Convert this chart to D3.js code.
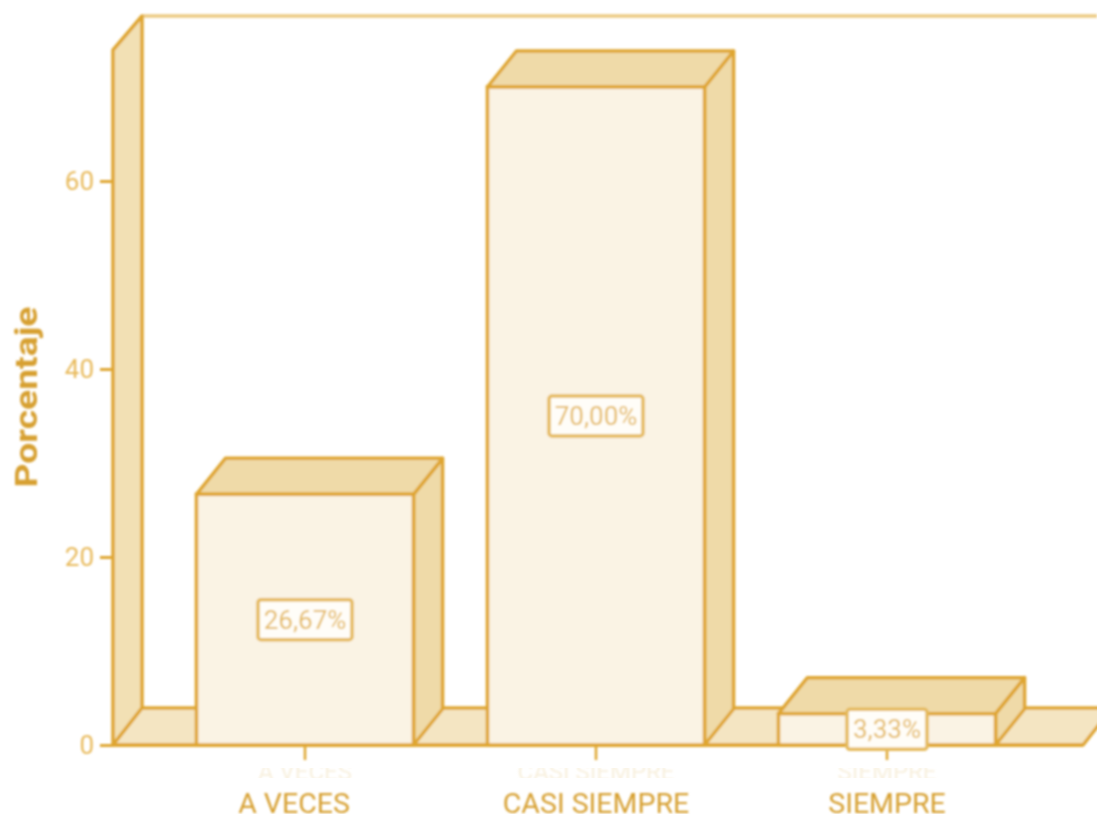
<!DOCTYPE html>
<html><head><meta charset="utf-8">
<script src="https://cdn.jsdelivr.net/npm/d3@7/dist/d3.min.js"></script>
<style>html,body{margin:0;padding:0;background:#fff}svg{display:block}</style></head>
<body><svg id="c" width="1097" height="814"></svg>
<script>
const categories = ["A VECES", "CASI SIEMPRE", "SIEMPRE"];
const percentages = [26.67, 70.0, 3.33];
const valueLabels = ["26,67%", "70,00%", "3,33%"];
const yTicks = [0, 20, 40, 60];
const yTitle = "Porcentaje";

const stroke = "#dfa630", side = "#efdaa8", wall = "#f2e0b4", floorFill = "#f4e5c2", front = "#faf3e4", tickText = "#e8ba5c", labelText = "#d7a032";
const font = "Roboto, sans-serif";
const depthX = 29, depthY = 36;
const y = d3.scaleLinear().domain([0, 60]).range([745, 181]);
const x = d3.scaleBand().domain(categories).range([159.5, 1032.5]).paddingInner(0.254).paddingOuter(0.127);

const svg = d3.select("#c");
const defs = svg.append("defs");
defs.append("filter").attr("id", "soft")
  .attr("filterUnits", "userSpaceOnUse").attr("x", 0).attr("y", 0).attr("width", 1097).attr("height", 814)
  .append("feGaussianBlur").attr("stdDeviation", 0.9);
defs.append("clipPath").attr("id", "ghost").append("rect").attr("x", 0).attr("y", 768).attr("width", 1097).attr("height", 10);

const g = svg.append("g").attr("filter", "url(#soft)");
const y0 = y(0), yTop = 50, xL = 113, xR = 1083;
const poly = (pts, fill) => g.append("polygon").attr("points", pts.map(p => p.join(",")).join(" "))
  .attr("fill", fill).attr("stroke", stroke).attr("stroke-width", 3.5).attr("stroke-linejoin", "round");

// back wall top edge, left wall, floor
g.append("line").attr("x1", xL + depthX).attr("x2", 1097).attr("y1", 16).attr("y2", 16)
  .attr("stroke", "#ecca82").attr("stroke-width", 3.5);
poly([[xL, y0], [xL, yTop], [xL + depthX, 16], [xL + depthX, y0 - depthY - 1]], wall);
poly([[xL, y0], [xL + depthX, y0 - depthY - 1], [xR + depthX, y0 - depthY - 1], [xR, y0]], floorFill);

// axes
const yAxis = g.append("g").attr("transform", `translate(${xL},0)`)
  .call(d3.axisLeft(y).tickValues(yTicks).tickSize(13).tickPadding(6).tickFormat(d3.format("d")));
yAxis.select(".domain").remove();
yAxis.selectAll("line").attr("stroke", stroke).attr("stroke-width", 3);
yAxis.selectAll("text").attr("fill", tickText).attr("font-family", font).attr("font-size", 26);

const xAxis = g.append("g").attr("transform", `translate(0,${y0})`)
  .call(d3.axisBottom(x).tickSize(15).tickPadding(33));
xAxis.select(".domain").remove();
xAxis.selectAll("line").attr("stroke", stroke).attr("stroke-width", 2.5);
xAxis.selectAll("text").attr("fill", labelText).attr("font-family", font).attr("font-size", 28.5)
  .attr("dx", (d, i) => i === 0 ? -11 : 0);

// faded echo of the labels under the ticks
svg.append("g").attr("clip-path", "url(#ghost)").attr("filter", "url(#soft)")
  .selectAll("text").data(categories).join("text")
  .attr("x", d => x(d) + x.bandwidth() / 2).attr("y", 780).attr("text-anchor", "middle")
  .attr("font-family", font).attr("font-size", 24).attr("fill", "#f6ead0").attr("opacity", 0.7).text(d => d);

// baseline
g.append("line").attr("x1", xL).attr("x2", xR).attr("y1", y0).attr("y2", y0).attr("stroke", stroke).attr("stroke-width", 3.5);

// bars
const bw = x.bandwidth();
categories.forEach((c, i) => {
  const l = x(c), r = l + bw, t = y(percentages[i]);
  poly([[r, y0], [r, t], [r + depthX, t - depthY], [r + depthX, y0 - depthY]], side);
  poly([[l, t], [l + depthX, t - depthY], [r + depthX, t - depthY], [r, t]], side);
  g.append("rect").attr("x", l).attr("y", t).attr("width", bw).attr("height", y0 - t)
    .attr("fill", front).attr("stroke", stroke).attr("stroke-width", 3.5);
});

// value labels
categories.forEach((c, i) => {
  const cx = x(c) + bw / 2, cy = (y(percentages[i]) + y0) / 2;
  const w = i === 2 ? 80 : 94, h = 40;
  g.append("rect").attr("x", cx - w / 2).attr("y", cy - h / 2).attr("width", w).attr("height", h).attr("rx", 3)
    .attr("fill", "#fffdf8").attr("stroke", "#e5ba5c").attr("stroke-width", 3.5);
  g.append("text").attr("x", cx).attr("y", cy + 9).attr("text-anchor", "middle")
    .attr("font-family", font).attr("font-size", 26).attr("fill", "#e5bb62").text(valueLabels[i]);
});

// y title
g.append("text").attr("transform", "translate(37,397) rotate(-90)").attr("text-anchor", "middle")
  .attr("font-family", font).attr("font-weight", 700).attr("font-size", 31)
  .attr("textLength", 181).attr("lengthAdjust", "spacingAndGlyphs")
  .attr("fill", labelText).text(yTitle);
</script></body></html>
